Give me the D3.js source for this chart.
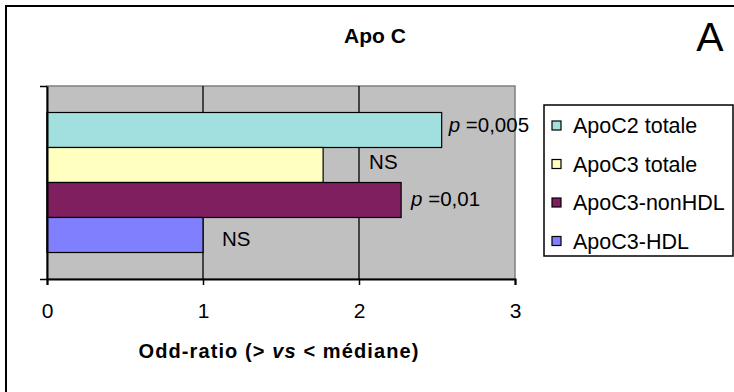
<!DOCTYPE html>
<html>
<head>
<meta charset="utf-8">
<script src="https://cdn.jsdelivr.net/npm/d3@7"></script>
<style>
  html, body { margin: 0; padding: 0; background: #fff; }
  svg { display: block; }
  svg text { font-family: "Liberation Sans", Arial, sans-serif; }
</style>
</head>
<body>
<svg id="chart" width="734" height="392"></svg>
<script>
// Series shown as horizontal bars (one group, four series)
const series = ["ApoC2 totale", "ApoC3 totale", "ApoC3-nonHDL", "ApoC3-HDL"];
const oddsRatios = [2.53, 1.77, 2.27, 1.0];
const seriesColors = ["#A2E0E0", "#FFFFC0", "#7F1F5F", "#8080FF"];
const significance = ["0,005", "NS", "0,01", "NS"];
const xTicks = [0, 1, 2, 3];

const svg = d3.select("#chart");

// Outer chart frame
svg.append("rect")
  .attr("x", 6).attr("y", 6)
  .attr("width", 760).attr("height", 420)
  .attr("fill", "#fff").attr("stroke", "#000").attr("stroke-width", 2);

const plot = { left: 47, top: 86, right: 515, bottom: 279 };

const x = d3.scaleLinear().domain([0, 3]).range([plot.left, plot.right]);
const y = d3.scaleBand().domain(series)
  .range([plot.top, plot.bottom])
  .paddingInner(0).paddingOuter(0.757);

// Plot area
svg.append("rect")
  .attr("x", plot.left).attr("y", plot.top)
  .attr("width", plot.right - plot.left).attr("height", plot.bottom - plot.top)
  .attr("fill", "#C0C0C0").attr("stroke", "#808080").attr("stroke-width", 1.5);

// Vertical gridlines
svg.append("g").selectAll("line")
  .data(xTicks.filter(t => t > 0 && t < 3))
  .join("line")
  .attr("x1", d => x(d)).attr("x2", d => x(d))
  .attr("y1", plot.top).attr("y2", plot.bottom)
  .attr("stroke", "#000").attr("stroke-width", 1.3);

// Bars
const rows = series.map((s, i) => ({ name: s, value: oddsRatios[i], color: seriesColors[i], sig: significance[i] }));
svg.append("g").selectAll("rect")
  .data(rows)
  .join("rect")
  .attr("x", x(0))
  .attr("y", d => y(d.name))
  .attr("width", d => x(d.value) - x(0))
  .attr("height", y.bandwidth())
  .attr("fill", d => d.color)
  .attr("stroke", "#000").attr("stroke-width", 1.2);

// Bottom axis
const xAxis = d3.axisBottom(x).tickValues(xTicks).tickFormat(d3.format("d"))
  .tickSize(6).tickPadding(18);
const gx = svg.append("g").attr("transform", `translate(0,${plot.bottom})`).call(xAxis);
gx.select(".domain").attr("stroke", "#000").attr("stroke-width", 2);
gx.selectAll(".tick line").attr("stroke", "#000").attr("stroke-width", 1.5);
gx.selectAll(".tick text")
  .attr("font-size", 21).attr("fill", "#000")
  .attr("font-family", '"Liberation Sans", Arial, sans-serif');

// Left axis: a single category band with ticks at its edges
const yEdge = d3.scaleLinear().domain([0, 1]).range([plot.bottom, plot.top]);
const gy = svg.append("g").attr("transform", `translate(${plot.left},0)`)
  .call(d3.axisLeft(yEdge).tickValues([0, 1]).tickFormat("").tickSize(7).tickSizeOuter(0));
gy.select(".domain").attr("stroke", "#000").attr("stroke-width", 2);
gy.selectAll(".tick line").attr("stroke", "#000").attr("stroke-width", 1.5);

// Significance labels next to the bars
const labelPlacement = [
  { dx: 7, dy: -5 },
  { dx: 46, dy: -3.5 },
  { dx: 10, dy: -1.5 },
  { dx: 19, dy: 3.5 }
];
const labels = svg.append("g").selectAll("text")
  .data(rows)
  .join("text")
  .attr("x", (d, i) => x(d.value) + labelPlacement[i].dx)
  .attr("y", (d, i) => y(d.name) + y.bandwidth() / 2 + labelPlacement[i].dy + 7.5)
  .attr("font-size", 20.5).attr("fill", "#000");
labels.each(function (d) {
  const t = d3.select(this);
  if (d.sig === "NS") {
    t.text("NS");
  } else {
    t.append("tspan").attr("font-style", "italic").text("p");
    t.append("tspan").text(" =" + d.sig);
  }
});

// Titles
svg.append("text")
  .attr("x", 375).attr("y", 43)
  .attr("text-anchor", "middle")
  .attr("font-size", 21).attr("font-weight", "bold")
  .text("Apo C");

svg.append("text")
  .attr("x", 710).attr("y", 51)
  .attr("text-anchor", "middle")
  .attr("font-size", 41)
  .text("A");

const xTitle = svg.append("text")
  .attr("x", 279).attr("y", 358)
  .attr("text-anchor", "middle")
  .attr("font-size", 20).attr("font-weight", "bold")
  .attr("letter-spacing", 1.1);
xTitle.append("tspan").text("Odd-ratio (> ");
xTitle.append("tspan").attr("font-style", "italic").text("vs");
xTitle.append("tspan").text(" < médiane)");

// Legend
const legend = svg.append("g");
legend.append("rect")
  .attr("x", 544).attr("y", 105)
  .attr("width", 189).attr("height", 151)
  .attr("fill", "#fff").attr("stroke", "#000").attr("stroke-width", 1.5);

const legendRow = d3.scalePoint().domain(series).range([125.5, 241]);
const items = legend.selectAll("g.item")
  .data(rows)
  .join("g").attr("class", "item")
  .attr("transform", d => `translate(0,${legendRow(d.name)})`);
items.append("rect")
  .attr("x", 552).attr("y", -4.5)
  .attr("width", 9).attr("height", 9)
  .attr("fill", d => d.color)
  .attr("stroke", "#000").attr("stroke-width", 1.2);
items.append("text")
  .attr("x", 573).attr("y", 7.5)
  .attr("font-size", 21.5).attr("fill", "#000")
  .text(d => d.name);
</script>
</body>
</html>
